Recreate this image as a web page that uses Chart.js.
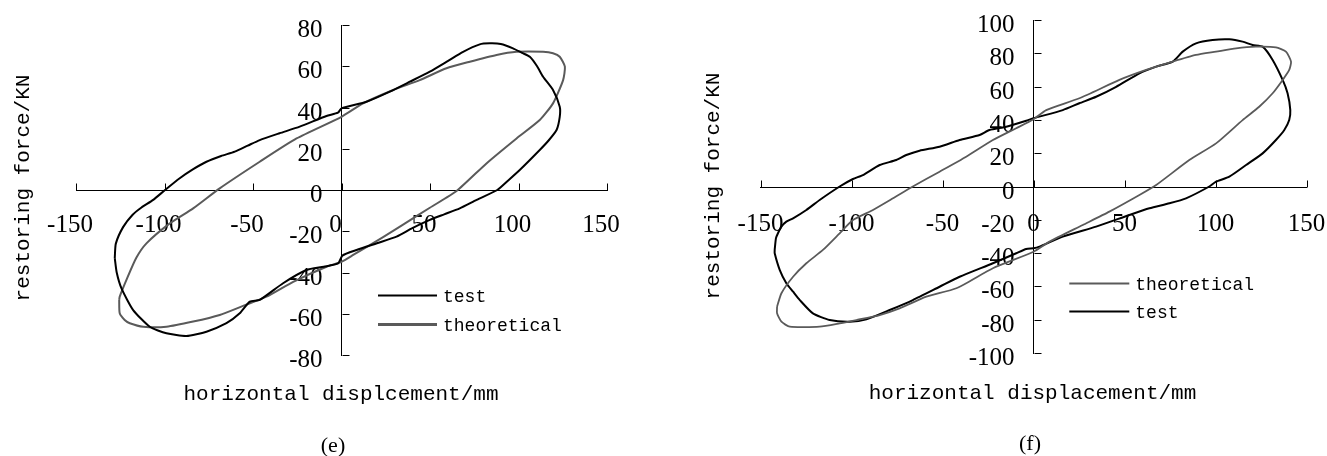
<!DOCTYPE html>
<html>
<head>
<meta charset="utf-8">
<title>Hysteresis loops: restoring force vs horizontal displacement</title>
<script src="https://cdn.jsdelivr.net/npm/chart.js@4.4.1/dist/chart.umd.min.js"></script>
<style>
  html, body { margin: 0; padding: 0; background: #fff; }
  #wrap { position: relative; width: 1327px; height: 456px; overflow: hidden; background: #fff; }
  canvas { position: absolute; top: 0; }
  #panelE { left: 0; }
  #panelF { left: 663px; }
</style>
</head>
<body>
<div id="wrap">
  <canvas id="panelE" width="663" height="456"></canvas>
  <canvas id="panelF" width="664" height="456"></canvas>
</div>
<script>
// ---------- panel (e) ----------
const xTicksE = [-150, -100, -50, 0, 50, 100, 150];
const yTicksE = [-80, -60, -40, -20, 0, 20, 40, 60, 80];

// measured loop, [displacement mm, force kN]
const testE = [
  [-128.1, -33], [-127.5, -26], [-123.4, -18], [-118, -12], [-113, -8.5], [-106.4, -4.8],
  [-99.7, 0], [-91.4, 5.7], [-84, 10], [-76.3, 13.7], [-68, 16.5], [-60.3, 18.6],
  [-53, 21.5], [-46.2, 24.2], [-35, 27.5], [-23.6, 30.7], [-8.5, 35.9], [-2, 37.5],
  [0, 39.6], [14.1, 42.8], [27.3, 47.7], [38.6, 52.5], [49.9, 57.4], [60, 62.5],
  [68.7, 67], [78.1, 70.6], [83.8, 71.1], [90, 70.8], [96.9, 68.7], [102, 66.5],
  [106.4, 64.6], [110.5, 60], [113.9, 54.9], [119.5, 48.5], [123.3, 40.4], [123.3, 35.5],
  [121.5, 29.1], [117, 24], [112, 19.4], [100.7, 9.7], [94, 4.5], [88, 0],
  [76.3, -4.8], [66.8, -8.9], [58, -11.8], [49.9, -14.5], [40, -18.5], [31.1, -22.6],
  [20, -25.8], [8.5, -29.1], [0.5, -31.8], [-1.9, -35.6], [-10, -37.2], [-19.8, -38.8],
  [-33, -45.2], [-46.2, -53.3], [-51.8, -54.1], [-57.5, -59.8], [-65, -64.6], [-76.3, -68.7],
  [-87.6, -70.8], [-98.9, -69.5], [-108.3, -66.3], [-117.7, -58.2], [-124.3, -47.7],
  [-127, -40], [-128.1, -33]
];

// theoretical loop
const theoE = [
  [-125.6, -53.3], [-125.3, -59.8], [-122.5, -63], [-119.6, -64.6], [-112, -66.3],
  [-98.9, -66.3], [-83.8, -63.8], [-68.8, -60.6], [-55.6, -56.2], [-42.4, -51.7],
  [-27.3, -44.5], [-8.5, -37.2], [0, -34.8], [6.6, -31.5], [23.5, -22.8], [34.8, -16.8],
  [49.9, -8.6], [65, -0.5], [81.9, 12.9], [98.9, 25], [112, 33.9], [119.5, 42],
  [125.2, 53.3], [126.2, 59.8], [123.3, 64.6], [119.5, 66.3], [113.9, 67], [98.9, 67],
  [87.6, 65.5], [72.5, 62.2], [59.3, 59], [44.2, 53.3], [29.2, 48.5], [12.2, 42],
  [0, 35.5], [-25.4, 25], [-46.2, 13.7], [-68.8, 0.8], [-83.8, -8.9], [-97, -16.2],
  [-110.2, -25.9], [-116, -33], [-121.5, -43.6], [-125.3, -51.7], [-125.6, -53.3]
];

// ---------- panel (f) ----------
const xTicksF = [-150, -100, -50, 0, 50, 100, 150];
const yTicksF = [-100, -80, -60, -40, -20, 0, 20, 40, 60, 80, 100];

const theoF = [
  [-140.9, -72.2], [-140.9, -76.2], [-138.5, -81.2], [-133.9, -84.2], [-117.5, -84.2],
  [-106.5, -82.2], [-97.3, -80.2], [-84.5, -77.2], [-73.6, -73.2], [-58.9, -66.2],
  [-42.4, -61.1], [-22.3, -49.1], [0, -39.2], [8.8, -33.1], [27.1, -23.1], [41.7, -15.1],
  [58.2, -5.1], [67.4, 0.9], [85.6, 15.9], [100.3, 25.9], [114.9, 39.9], [124, 47.9],
  [131.4, 56], [136.9, 64], [140.5, 70], [141.5, 75], [138.7, 81], [133.2, 83.6],
  [122.2, 84], [111.3, 83], [100.3, 81], [89.3, 79], [76.5, 75], [61.9, 70],
  [47.2, 64], [25.2, 53], [7, 45.9], [0, 40.4], [-9.5, 35], [-22.3, 27.9],
  [-37, 17.9], [-51.6, 8.9], [-66.3, 0], [-77.2, -7.1], [-88.2, -14.1], [-99.2, -20.1],
  [-106.5, -28.1], [-115.7, -38.1], [-124.8, -46.1], [-132.1, -54.2], [-138.5, -64.1],
  [-140.9, -72.2]
];

const testF = [
  [-142.2, -38], [-141.5, -31], [-140.4, -28.1], [-138.5, -24.1], [-135.8, -21.1],
  [-132.1, -19.1], [-124.8, -14.1], [-117.5, -8.1], [-106.5, 0], [-99.2, 4.5],
  [-93.7, 6.9], [-84.5, 12.9], [-75.4, 15.9], [-69.9, 18.9], [-62.6, 21.5], [-51.6, 23.9],
  [-40.6, 27.9], [-29.6, 30.9], [-24.2, 33.9], [-15, 35.9], [-4, 39.5], [0, 41],
  [16.1, 45.9], [25.2, 50], [34.4, 53.9], [45.4, 59.9], [58.2, 68], [67.4, 72],
  [76.5, 75], [82, 81], [89.3, 86], [98.4, 88], [107.6, 88.4], [114.9, 87],
  [120.4, 85], [125.9, 84], [131.4, 76], [136.9, 64], [139.6, 56], [141.1, 45.9],
  [140.5, 39.9], [137.8, 33.9], [133.2, 27.9], [125.9, 19.9], [116.8, 12.9], [107.6, 5.9],
  [100.3, 2.9], [96.6, 0], [83.8, -7.1], [74.7, -10.1], [63.7, -13.1], [52.7, -17.1],
  [34.4, -24.1], [16.1, -30.1], [3.3, -36.1], [0, -37.1], [-4, -37.5], [-9.5, -40.1],
  [-22.3, -46.1], [-40.6, -54.2], [-51.6, -60.2], [-66.3, -68.2], [-79, -74.2],
  [-91.8, -79.8], [-101, -81.2], [-112, -80.2], [-121.2, -76.2], [-128.4, -68.2],
  [-132.1, -63.2], [-135.8, -58.1], [-139.4, -50.2], [-142.2, -40.1], [-142.2, -38]
];

const SERIF = '"Liberation Serif", "Times New Roman", serif';
const MONO = '"Liberation Mono", "Courier New", monospace';

// Inward tick marks, axis titles, caption and the in-plot legend.
const hysteresisDecor = {
  id: 'hysteresisDecor',
  afterDraw(chart, args, o) {
    const ctx = chart.ctx;
    const xs = chart.scales.x, ys = chart.scales.y;
    const x0 = Math.round(xs.getPixelForValue(0)) + 0.5;
    const y0 = Math.round(ys.getPixelForValue(0)) + 0.5;
    ctx.save();
    ctx.strokeStyle = '#000';
    ctx.lineWidth = 1;
    ctx.beginPath();
    xs.ticks.forEach(t => {
      const px = Math.round(xs.getPixelForValue(t.value)) + 0.5;
      ctx.moveTo(px, y0);
      ctx.lineTo(px, y0 - o.tickLen);
    });
    ys.ticks.forEach(t => {
      const py = Math.round(ys.getPixelForValue(t.value)) + 0.5;
      ctx.moveTo(x0, py);
      ctx.lineTo(x0 + o.tickLen, py);
    });
    ctx.stroke();

    ctx.fillStyle = '#000';
    ctx.font = '21px ' + MONO;
    ctx.textAlign = 'center';
    ctx.textBaseline = 'alphabetic';
    ctx.fillText(o.xTitle, o.xTitleAt[0], o.xTitleAt[1]);

    ctx.save();
    ctx.translate(o.yTitleAt[0], o.yTitleAt[1]);
    ctx.rotate(-Math.PI / 2);
    ctx.textBaseline = 'middle';
    ctx.fillText(o.yTitle, 0, 0);
    ctx.restore();

    ctx.font = '22px ' + SERIF;
    ctx.textBaseline = 'middle';
    ctx.fillText(o.caption, o.captionAt[0], o.captionAt[1]);

    ctx.font = '18px ' + MONO;
    ctx.textAlign = 'left';
    ctx.textBaseline = 'alphabetic';
    chart.data.datasets.forEach((ds, i) => {
      const ly = Math.round(o.legendAt[1] + i * o.legendGap) + 0.5;
      const lx = o.legendAt[0];
      ctx.strokeStyle = ds.borderColor;
      ctx.lineWidth = ds.legendWidth;
      ctx.beginPath();
      ctx.moveTo(lx, ly);
      ctx.lineTo(lx + o.legendLen, ly);
      ctx.stroke();
      ctx.fillText(ds.label, lx + o.legendLen + 6, ly + 6.5);
    });
    ctx.restore();
  }
};

function toPoints(arr) {
  return arr.map(([x, y]) => ({ x, y }));
}

function loopDataset(label, arr, color, width, legendWidth) {
  return {
    label,
    data: toPoints(arr),
    showLine: true,
    borderColor: color,
    backgroundColor: color,
    borderWidth: width,
    legendWidth,
    pointRadius: 0,
    pointHoverRadius: 0,
    tension: 0.2,
    fill: false
  };
}

// Label spacing is carried by an invisible tick length so that the scale
// padding does not eat into the plotting area.
function buildPanel(id, p) {
  const tickFont = { family: SERIF, size: 25 };
  return new Chart(document.getElementById(id), {
    type: 'scatter',
    data: { datasets: p.datasets },
    options: {
      responsive: false,
      animation: false,
      devicePixelRatio: 1,
      events: [],
      layout: { padding: p.padding },
      plugins: {
        legend: { display: false },
        tooltip: { enabled: false },
        title: { display: false },
        hysteresisDecor: p.decor
      },
      scales: {
        x: {
          type: 'linear',
          position: 'center',
          min: p.xTicks[0],
          max: p.xTicks[p.xTicks.length - 1],
          afterBuildTicks: ax => { ax.ticks = p.xTicks.map(v => ({ value: v })); },
          grid: {
            display: true, drawOnChartArea: false, drawTicks: true,
            tickLength: p.xLabelGap, tickColor: 'rgba(0,0,0,0)'
          },
          border: { display: true, color: '#000', width: 1 },
          ticks: {
            font: tickFont, color: '#000', padding: 0, labelOffset: p.xLabelShift,
            autoSkip: false, maxRotation: 0, minRotation: 0
          }
        },
        y: {
          type: 'linear',
          position: 'center',
          min: p.yTicks[0],
          max: p.yTicks[p.yTicks.length - 1],
          afterBuildTicks: ax => { ax.ticks = p.yTicks.map(v => ({ value: v })); },
          grid: {
            display: true, drawOnChartArea: false, drawTicks: true,
            tickLength: 19, tickColor: 'rgba(0,0,0,0)'
          },
          border: { display: true, color: '#000', width: 1 },
          ticks: {
            font: tickFont, color: '#000', padding: 0, labelOffset: 5.5,
            autoSkip: false
          }
        }
      }
    },
    plugins: [hysteresisDecor]
  });
}

function build() {
  buildPanel('panelE', {
    xTicks: xTicksE,
    yTicks: yTicksE,
    padding: { left: 76, right: 56, top: 25, bottom: 101 },
    xLabelGap: 20.5,
    xLabelShift: -6,
    datasets: [
      loopDataset('test', testE, '#000000', 2, 2),
      loopDataset('theoretical', theoE, '#5a5a5a', 2, 3)
    ],
    decor: {
      tickLen: 7,
      xTitle: 'horizontal displcement/mm', xTitleAt: [341, 400],
      yTitle: 'restoring force/KN', yTitleAt: [23, 188],
      caption: '(e)', captionAt: [333, 446],
      legendAt: [378, 295], legendGap: 29.3, legendLen: 59
    }
  });

  buildPanel('panelF', {
    xTicks: xTicksF,
    yTicks: yTicksF,
    padding: { left: 97.5, right: 20.5, top: 20, bottom: 103 },
    xLabelGap: 23,
    xLabelShift: 0,
    datasets: [
      loopDataset('theoretical', theoF, '#5a5a5a', 1.8, 2),
      loopDataset('test', testF, '#000000', 2, 2)
    ],
    decor: {
      tickLen: 7,
      xTitle: 'horizontal displacement/mm', xTitleAt: [369.5, 399],
      yTitle: 'restoring force/KN', yTitleAt: [50, 186],
      caption: '(f)', captionAt: [367, 444],
      legendAt: [406.3, 282.7], legendGap: 28.3, legendLen: 60
    }
  });
}

const fontsReady = document.fonts && document.fonts.load
  ? Promise.all([
      document.fonts.load('25px "Liberation Serif"'),
      document.fonts.load('21px "Liberation Mono"')
    ]).catch(() => null)
  : Promise.resolve();
fontsReady.then(build);
</script>
</body>
</html>
